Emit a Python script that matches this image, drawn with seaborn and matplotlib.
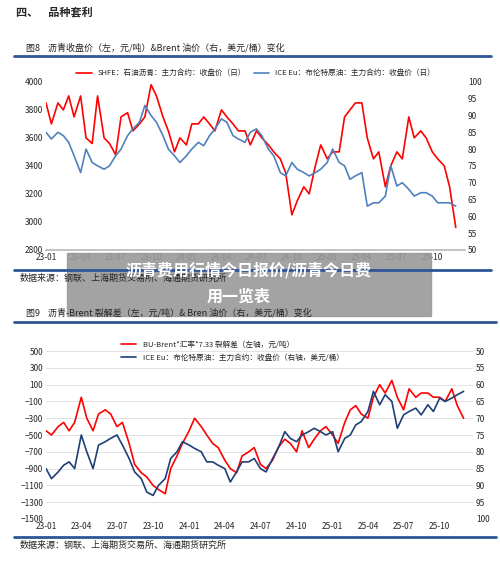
import numpy as np
import pandas as pd
import matplotlib
matplotlib.use("Agg")
import matplotlib.pyplot as plt
import matplotlib.dates as mdates
import seaborn as sns

sns.set_theme(style="white")
plt.rcParams['font.family'] = ['Noto Sans CJK SC', 'DejaVu Sans']

# half-monthly points from 2023-01 to 2025-12
dates = pd.date_range("2023-01-01", periods=71, freq="SMS")

bu_close = [3850, 3700, 3850, 3800, 3900, 3750, 3900, 3600, 3560, 3900, 3600, 3560,
            3480, 3750, 3780, 3650, 3700, 3750, 3980, 3900, 3750, 3650, 3500, 3600,
            3550, 3700, 3700, 3750, 3700, 3650, 3800, 3750, 3700, 3650, 3650, 3550,
            3650, 3600, 3550, 3500, 3450, 3350, 3050, 3150, 3250, 3200, 3400, 3550,
            3450, 3500, 3500, 3750, 3800, 3850, 3850, 3600, 3450, 3500, 3250, 3400,
            3500, 3450, 3750, 3600, 3650, 3600, 3500, 3450, 3400, 3250, 2960]
brent_top = [85, 83, 85, 84, 82, 78, 73, 80, 76, 75, 74, 75,
             78, 80, 84, 86, 88, 93, 90, 88, 84, 80, 78, 76,
             78, 80, 82, 81, 84, 86, 89, 88, 84, 83, 82, 85,
             86, 84, 80, 78, 73, 72, 76, 74, 73, 72, 73, 74,
             76, 80, 76, 75, 71, 72, 73, 63, 64, 64, 66, 75,
             69, 70, 68, 66, 67, 67, 66, 64, 64, 64, 63]
crack = [-450, -500, -400, -350, -450, -350, -50, -300, -450, -250, -200, -250,
         -400, -350, -600, -850, -950, -1000, -1100, -1150, -1200, -900, -750, -600,
         -450, -300, -400, -500, -600, -650, -800, -900, -950, -750, -700, -650,
         -850, -900, -800, -650, -550, -600, -700, -450, -650, -550, -450, -400,
         -500, -600, -350, -200, -150, -250, -300, -50, 100, 0, 150, -50,
         -200, 50, -50, 0, 0, -50, -50, -100, 50, -150, -300]
brent_bot = [85, 88, 86, 84, 83, 85, 75, 80, 85, 78, 77, 76,
             75, 78, 82, 86, 88, 92, 93, 90, 88, 82, 80, 77,
             78, 79, 80, 83, 83, 84, 85, 89, 86, 83, 83, 82,
             85, 86, 82, 79, 74, 76, 77, 75, 74, 73, 74, 75,
             74, 80, 76, 75, 72, 71, 68, 62, 66, 63, 65, 73,
             69, 68, 67, 69, 66, 68, 64, 65, 64, 63, 62]

RED = "#ff0000"
BLUE_TOP = "#4f81bd"
BLUE_BOT = "#1f3f77"
LINE = "#2f5597"

fig = plt.figure(figsize=(5.0, 5.69), dpi=100)

def txt(x, y, s, **kw):
    fig.text(x / 500, 1 - y / 569, s, va="center", **kw)

def hline(y, x0=20, x1=490, lw=2):
    fig.add_artist(plt.Line2D([x0 / 500, x1 / 500], [1 - y / 569] * 2, color=LINE, lw=lw))

txt(16, 12, "四、    品种套利", fontsize=8, weight="bold")
txt(26, 48, "图8    沥青收盘价（左，元/吨）&Brent 油价（右，美元/桶）变化", fontsize=6.5)
hline(56, 14, 491)

fmt = mdates.DateFormatter("%y-%m")
ticks = pd.date_range("2023-01-01", "2025-10-01", freq="3MS")

# top chart
ax1 = fig.add_axes([0.092, 0.561, 0.838, 0.295])
sns.lineplot(x=dates, y=bu_close, ax=ax1, color=RED, lw=1.2, label="SHFE：石油沥青：主力合约：收盘价（日）", legend=False)
ax1.set_ylim(2800, 4000)
ax1.set_yticks(range(2800, 4001, 200))
ax1b = ax1.twinx()
sns.lineplot(x=dates, y=brent_top, ax=ax1b, color=BLUE_TOP, lw=1.2, label="ICE Eu：布伦特原油：主力合约：收盘价（日）", legend=False)
ax1b.set_ylim(50, 100)
ax1b.set_yticks(range(50, 101, 5))
for a in (ax1, ax1b):
    a.set_xlim(pd.Timestamp("2023-01-01"), pd.Timestamp("2025-12-25"))
    for s in a.spines.values():
        s.set_visible(False)
    a.tick_params(labelsize=6, length=0, pad=2)
    a.set_ylabel("")
    a.set_xlabel("")
ax1.spines["bottom"].set_visible(True)
ax1.spines["bottom"].set_color("#bbbbbb")
ax1.set_xticks(ticks)
ax1.xaxis.set_major_formatter(fmt)
ax1.tick_params(axis="x", length=3, color="#bbbbbb", direction="in")
h1, l1 = ax1.get_legend_handles_labels()
h2, l2 = ax1b.get_legend_handles_labels()
ax1.legend(h1 + h2, l1 + l2, loc="lower center", bbox_to_anchor=(0.5, 1.0), ncol=2, frameon=False,
           fontsize=5.5, handlelength=2, columnspacing=1, borderaxespad=0.2)

hline(270, 14, 491)
txt(20, 278, "数据来源：钢联、上海期货交易所、海通期货研究所", fontsize=6.5)

# overlay banner
fig.add_artist(plt.Rectangle((67 / 500, 1 - 316 / 569), 364 / 500, 63 / 569, color="#999999", alpha=0.9))
fig.text(249 / 500, 1 - 270 / 569, "沥青费用行情今日报价/沥青今日费", ha="center", va="center",
         fontsize=11.5, color="white", weight="bold")
fig.text(239 / 500, 1 - 297 / 569, "用一览表", ha="center", va="center", fontsize=11.5, color="white", weight="bold")

txt(26, 313, "图9    沥青-Brent 裂解差（左，元/吨）& Bren 油价（右，美元/桶）变化", fontsize=6.5)
hline(322, 14, 496)

# bottom chart
ax2 = fig.add_axes([0.092, 0.088, 0.854, 0.295])
sns.lineplot(x=dates, y=crack, ax=ax2, color=RED, lw=1.2, label="BU-Brent*汇率*7.33 裂解差（左轴，元/吨）", legend=False)
ax2.set_ylim(-1500, 500)
ax2.set_yticks(range(-1500, 501, 200))
ax2.grid(axis="y", color="#dddddd", lw=0.6)
ax2b = ax2.twinx()
sns.lineplot(x=dates, y=brent_bot, ax=ax2b, color=BLUE_BOT, lw=1.2, label="ICE Eu：布伦特原油：主力合约：收盘价（右轴，美元/桶）", legend=False)
ax2b.set_ylim(100, 50)
ax2b.set_yticks(range(50, 101, 5))
for a in (ax2, ax2b):
    a.set_xlim(pd.Timestamp("2023-01-01"), pd.Timestamp("2025-12-25"))
    for s in a.spines.values():
        s.set_visible(False)
    a.tick_params(labelsize=6, length=0, pad=2)
    a.set_ylabel("")
    a.set_xlabel("")
ax2.set_xticks(ticks)
ax2.xaxis.set_major_formatter(fmt)
h1, l1 = ax2.get_legend_handles_labels()
h2, l2 = ax2b.get_legend_handles_labels()
ax2.legend(h1 + h2, l1 + l2, loc="upper left", bbox_to_anchor=(0.16, 1.1), ncol=1, frameon=False,
           fontsize=5.5, handlelength=2, labelspacing=0.6)

hline(537, 14, 496)
txt(20, 545, "数据来源：钢联、上海期货交易所、海通期货研究所", fontsize=6.5)

fig.savefig("out.png", dpi=100)
